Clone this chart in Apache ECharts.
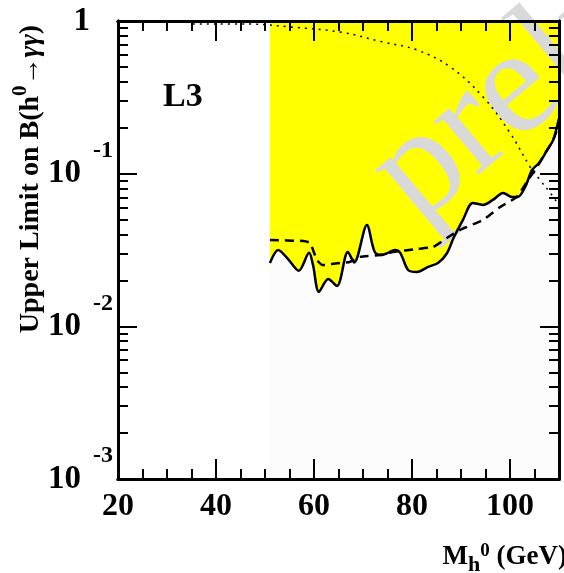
<!DOCTYPE html>
<html>
<head>
<meta charset="utf-8">
<script src="https://cdn.jsdelivr.net/npm/echarts@6/dist/echarts.min.js"></script>
<style>
  html, body { margin: 0; padding: 0; background: #fff; }
  #chart { width: 564px; height: 573px; }
</style>
</head>
<body>
<div id="chart"></div>
<script>
// observed upper limit (solid line)
const obsMass = [51.0, 52.7, 54.5, 56.9, 59.0, 59.8, 61.0, 62.9, 64.7, 66.9, 68.2, 70.8, 72.4, 73.9, 75.1, 76.5, 77.6, 79.2, 81.0, 83.3, 85.3, 87.1, 88.5, 90.4, 92.4, 94.5, 96.5, 98.6, 100.4, 101.6, 103.1, 104.5, 106.1, 107.6, 108.8, 110.0];
const obsLimit = [0.0260, 0.0316, 0.0281, 0.0231, 0.0303, 0.0252, 0.0168, 0.0204, 0.0184, 0.0307, 0.0262, 0.0461, 0.0307, 0.0294, 0.0303, 0.0316, 0.0303, 0.0234, 0.0227, 0.0245, 0.0260, 0.0300, 0.0380, 0.0498, 0.0643, 0.0624, 0.0673, 0.0748, 0.0704, 0.0704, 0.0818, 0.1057, 0.119, 0.143, 0.166, 0.23];

// expected limit (dashed line)
const expMass = [51.0, 57.8, 59.2, 60.6, 61.8, 65.3, 67.3, 69.4, 74.1, 76.1, 81.0, 84.3, 87.1, 89.8, 94.5, 98.0, 101.4, 103.7, 105.5, 106.7, 108.8, 110.0];
const expLimit = [0.0368, 0.0362, 0.0352, 0.0272, 0.0252, 0.0260, 0.0264, 0.0285, 0.0294, 0.0307, 0.0321, 0.0331, 0.0379, 0.0428, 0.0498, 0.0605, 0.0704, 0.0910, 0.1106, 0.1286, 0.166, 0.21];

// prediction (dotted line)
const thMass = [35.3, 46.9, 55.1, 65.3, 74.1, 81.0, 87.8, 94.5, 100.0, 104.1, 106.1, 108.2, 110.0];
const thBR = [0.955, 0.955, 0.914, 0.847, 0.728, 0.646, 0.500, 0.318, 0.185, 0.111, 0.091, 0.075, 0.062];

// excluded region spans the scanned masses
const scanRange = [51.0, 110.0];

const xMajorTicks = [20, 40, 60, 80, 100];
const xMinorTicks = [25, 30, 35, 45, 50, 55, 65, 70, 75, 85, 90, 95, 105];
const yMajorTicks = [0.001, 0.01, 0.1, 1];
const yTickExp = ['-3', '-2', '-1', ''];
const yMinorTicks = [];
[0.001, 0.01, 0.1].forEach(function (d) {
  for (let k = 2; k <= 9; k++) yMinorTicks.push(+(d * k).toPrecision(3));
});

const pairs = (xs, ys) => xs.map((x, i) => [x, ys[i]]);

const FONT = 'Liberation Serif';

let chart = echarts.init(document.getElementById('chart'));

function makeX(pos, ticks, len, labels) {
  return {
    type: 'value', position: pos, min: 20, max: 110, z: 10,
    axisLine: { show: true, onZero: false, lineStyle: { color: '#000', width: 3 } },
    axisTick: { show: true, inside: true, length: len, customValues: ticks, lineStyle: { color: '#000', width: 2 } },
    axisLabel: labels ? {
      show: true, customValues: xMajorTicks, margin: 12,
      fontFamily: FONT, fontWeight: 'bold', fontSize: 32, color: '#000'
    } : { show: false },
    splitLine: { show: false }
  };
}

function makeY(pos, ticks, len, labels) {
  return {
    type: 'log', position: pos, min: 0.001, max: 1, logBase: 10, z: 10,
    axisLine: { show: true, onZero: false, lineStyle: { color: '#000', width: 3 } },
    axisTick: { show: true, inside: true, length: len, customValues: ticks, lineStyle: { color: '#000', width: 2 } },
    axisLabel: labels ? {
      show: true, customValues: yMajorTicks, margin: 5,
      formatter: function (v) {
        const i = yMajorTicks.findIndex(t => Math.abs(Math.log10(t) - Math.log10(v)) < 1e-6);
        if (i < 0) return '';
        if (yTickExp[i] === '') return '{one|1}';
        return '{b|10}{s|' + yTickExp[i] + '}';
      },
      rich: {
        one: { fontFamily: FONT, fontWeight: 'bold', fontSize: 33, color: '#000', padding: [0, 23, 0, 0] },
        b: { fontFamily: FONT, fontWeight: 'bold', fontSize: 33, color: '#000' },
        s: { fontFamily: FONT, fontWeight: 'bold', fontSize: 24, color: '#000', padding: [0, 0, 46, 12] }
      }
    } : { show: false },
    splitLine: { show: false }
  };
}

let option = {
  backgroundColor: '#fff',
  animation: false,
  grid: { left: 118, right: 5, top: 21, bottom: 94 },
  xAxis: [
    makeX('bottom', xMajorTicks, 20, true),
    makeX('bottom', xMinorTicks, 10, false),
    makeX('top', xMajorTicks, 20, false),
    makeX('top', xMinorTicks, 10, false)
  ],
  yAxis: [
    makeY('left', yMajorTicks, 19, true),
    makeY('left', yMinorTicks, 10, false),
    makeY('right', yMajorTicks, 19, false),
    makeY('right', yMinorTicks, 10, false)
  ],
  graphic: [
    {
      type: 'text', left: 163, top: 80, z: 20,
      style: { text: 'L3', font: 'bold 34px "Liberation Serif"', fill: '#000' }
    },
    {
      type: 'text', x: 392, y: 195, rotation: 40 * Math.PI / 180, z: 3,
      style: { text: 'preliminary', font: '152px "Liberation Serif"', fill: '#d9d9d9', align: 'left', verticalAlign: 'middle' }
    },
    {
      type: 'text', x: 31, y: 179, rotation: Math.PI / 2, z: 20,
      style: {
        text: '{t|Upper Limit on B(h}{sup|0}{t|→}{g|γγ}{t|)}',
        align: 'center', verticalAlign: 'middle',
        rich: {
          t: { fontFamily: FONT, fontWeight: 'bold', fontSize: 28, fill: '#000' },
          g: { fontFamily: FONT, fontWeight: 'bold', fontStyle: 'italic', fontSize: 28, fill: '#000' },
          sup: { fontFamily: FONT, fontWeight: 'bold', fontSize: 21, fill: '#000', padding: [0, 0, 20, 0] }
        }
      }
    },
    {
      type: 'text', x: 567, y: 557, z: 20,
      style: {
        text: '{t|M}{sub|h}{sup|0}{t| (GeV)}',
        align: 'right', verticalAlign: 'middle',
        rich: {
          t: { fontFamily: FONT, fontWeight: 'bold', fontSize: 27, fill: '#000' },
          sub: { fontFamily: FONT, fontWeight: 'bold', fontSize: 22, fill: '#000', padding: [16, 0, 0, 0] },
          sup: { fontFamily: FONT, fontWeight: 'bold', fontSize: 19, fill: '#000', padding: [0, 0, 12, 0] }
        }
      }
    }
  ],
  series: [
    {
      name: 'excluded', type: 'line', z: 1, silent: true, symbol: 'none',
      data: [[scanRange[0], 1], [scanRange[1], 1]],
      lineStyle: { width: 0 },
      areaStyle: { color: '#ffff00', origin: 'start', opacity: 1 }
    },
    {
      name: 'allowed', type: 'line', z: 1, silent: true, symbol: 'none', smooth: 0.3,
      data: pairs(obsMass, obsLimit),
      lineStyle: { width: 0 },
      areaStyle: { color: '#fcfcfc', origin: 'start', opacity: 1 }
    },
    {
      name: 'observed', type: 'line', z: 5, symbol: 'none', smooth: 0.3,
      data: pairs(obsMass, obsLimit),
      lineStyle: { color: '#000', width: 2.5 }
    },
    {
      name: 'expected', type: 'line', z: 5, symbol: 'none', smooth: 0.15,
      data: pairs(expMass, expLimit),
      lineStyle: { color: '#000', width: 2.5, type: [9, 6] }
    },
    {
      name: 'prediction', type: 'line', z: 5, symbol: 'none', smooth: 0.4,
      data: pairs(thMass, thBR),
      lineStyle: { color: '#000', width: 1.5, type: [2, 5] }
    }
  ]
};

chart.setOption(option);
window.addEventListener('resize', () => { if (chart) chart.resize(); });
</script>
</body>
</html>
